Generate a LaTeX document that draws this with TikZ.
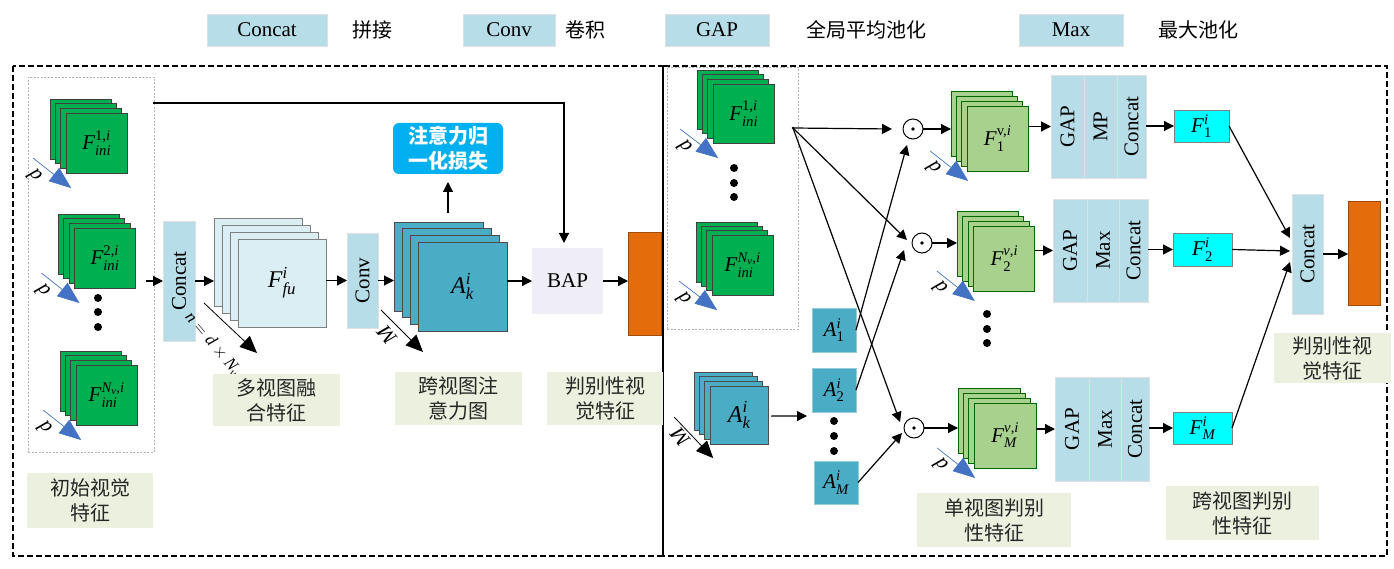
\documentclass[tikz,border=0pt]{standalone}
\usepackage{amsmath}
\usepackage{graphicx}
\usepackage{fontspec}
\setmainfont{Liberation Serif}
\newfontfamily\cjk{Noto Sans CJK SC}
\usetikzlibrary{arrows.meta,calc}
\definecolor{lblue}{HTML}{B7DDE8}
\definecolor{lgreenbg}{HTML}{EBF1DE}
\definecolor{dgreen}{HTML}{00B050}
\definecolor{mgreen}{HTML}{A9D18E}
\definecolor{tealA}{HTML}{4BACC6}
\definecolor{paleB}{HTML}{DAEEF3}
\definecolor{orng}{HTML}{E46C0A}
\definecolor{attnc}{HTML}{00B0F0}
\definecolor{bapc}{HTML}{EFEDF5}
\definecolor{darrc}{HTML}{4472C4}
\definecolor{cyanF}{HTML}{00FFFF}
\newcommand\stk[9]{%
 \node[#8, minimum width=#4pt, minimum height=#5pt, anchor=north west] (#1b) at (#2,#3) {};
 \foreach \k in {1,2}{\node[#8, minimum width=#4pt, minimum height=#5pt, anchor=north west] at ({#2+\k*#6},{#3+\k*#7}) {};}
 \node[#8, minimum width=#4pt, minimum height=#5pt, anchor=north west] (#1) at ({#2+3*#6},{#3+3*#7}) {#9};
}
\newcommand\ti[1]{\textit{#1}}
\newcommand\tu[1]{\textup{#1}}
\begin{document}
\begin{tikzpicture}[x=1pt,y=-1pt,
 every node/.style={inner sep=0pt, outer sep=0pt},
 txt/.style={font=\fontsize{21}{25}\selectfont},
 bigtxt/.style={font=\fontsize{24}{28}\selectfont},
 ctxt/.style={font=\cjk\fontsize{20}{25}\selectfont, align=center},
 bluebox/.style={fill=lblue, draw=black!12, line width=0.8pt, txt},
 lab/.style={fill=lgreenbg, ctxt, text=black!85},
 gsheet/.style={fill=dgreen, draw=black!75, line width=0.9pt, txt},
 lgsheet/.style={fill=mgreen, draw=black!60!green, line width=0.9pt, txt},
 tsheet/.style={fill=tealA, draw=black!70, line width=0.9pt, bigtxt},
 psheet/.style={fill=paleB, draw=black!50, line width=0.9pt, bigtxt},
 abox/.style={fill=tealA, draw=tealA!60!white, line width=0.8pt, txt, minimum width=44pt, minimum height=44pt},
 fbox/.style={fill=cyanF, draw=black!50, line width=0.8pt, txt},
 arr/.style={-{Triangle[length=10pt,width=10pt]}, line width=1.2pt},
 darrow/.style={draw=darrc, line width=0.7pt, -{Triangle[length=22pt,width=17pt]}},
 karrow/.style={line width=0.8pt, -{Triangle[length=17pt,width=15pt]}},
 dotn/.style={circle, fill=black, minimum size=8pt},
 odot/.style={circle, draw, line width=1pt, minimum size=20pt, fill=white},
 outerd/.style={line width=2.2pt, dash pattern=on 6pt off 3pt},
 innerd/.style={draw=black!30, line width=0.8pt, dash pattern=on 2pt off 1.5pt},
 dlab/.style={font=\fontsize{21}{25}\selectfont\itshape},
]
\useasboundingbox (0,0) rectangle (1394,569);

% legend
\node[bluebox, minimum width=120pt, minimum height=32pt] (lg1) at (267,30) {Concat};
\node[ctxt] (lt1) at (372,30) {拼接};
\node[bluebox, minimum width=92pt, minimum height=32pt] (lg2) at (509,30) {Conv};
\node[ctxt] (lt2) at (585,30) {卷积};
\node[bluebox, minimum width=104pt, minimum height=32pt] (lg3) at (717,30) {GAP};
\node[ctxt] (lt3) at (866,30) {全局平均池化};
\node[bluebox, minimum width=104pt, minimum height=32pt] (lg4) at (1071,30) {Max};
\node[ctxt] (lt4) at (1198,30) {最大池化};

% outer boxes
\draw[outerd] (13,66) rectangle (663,556);
\draw[outerd] (663,66) rectangle (1387,556);

% ---------------- left panel
\node[innerd, minimum width=126pt, minimum height=375pt, anchor=north west] (ini) at (28,77) {};
\stk{L1}{50}{99}{61}{60}{5.4}{4.7}{gsheet}{$\ti{F}^{\tu{1,}\ti{i}}_{\ti{ini}}$}
\stk{L2}{58}{214}{61}{60}{5.5}{4.7}{gsheet}{$\ti{F}^{\tu{2,}\ti{i}}_{\ti{ini}}$}
\stk{L3}{60}{351}{61}{60}{5.4}{4.7}{gsheet}{$\ti{F}^{\ti{N}_{\ti{v}}\tu{,}\ti{i}}_{\ti{ini}}$}
\node[dotn] (ld1) at (98,298) {};
\node[dotn] (ld2) at (98,312) {};
\node[dotn] (ld3) at (98,327) {};
\foreach \s in {L1,L2,L3}{
 \draw[darrow] ($(\s.south west)+(-33,-15)$) -- ($(\s.south west)+(5,15)$);
 \node[dlab, rotate=130] at ($(\s.south west)+(-32,3)$) {d};
}
\node[lab, minimum width=126pt, minimum height=55pt, anchor=north west] (lb1) at (27,473) {初始视觉\\特征};

\node[bluebox, minimum width=32pt, minimum height=120pt] (cL) at (179,281) {\rotatebox{90}{Concat}};
\coordinate (cin) at (146,281);
\draw[arr] (cin) -- (cL.west);
\stk{Ffu}{214}{218}{88}{88}{8}{7}{psheet}{$\ti{F}^{\ti{i}}_{\ti{fu}}$}
\draw[arr] (cL.east) -- (cL.east -| Ffub.west);
\draw[karrow] ($(cL.south east)+(9,-38)$) -- ($(cL.south east)+(62,12)$);
\node[font=\fontsize{17}{20}\selectfont, rotate=-50] (nlab) at (213,344) {$\ti{n}=\ti{d}\times\ti{N}_{\ti{v}}$};
\node[lab, minimum width=127pt, minimum height=52pt, anchor=north west] (lb2) at (213,374) {多视图融\\合特征};

\node[bluebox, minimum width=31pt, minimum height=95pt] (conv) at (362.5,280.5) {\rotatebox{90}{Conv}};
\draw[arr] (Ffu.east |- conv.west) -- (conv.west);
\stk{Ak}{394}{222}{89}{89}{8}{6.7}{tsheet}{$\ti{A}^{\ti{i}}_{\ti{k}}$}
\draw[arr] (conv.east) -- (conv.east -| Akb.west);
\draw[karrow] ($(conv.south east)+(3,-18)$) -- ($(conv.south east)+(45,24)$);
\node[dlab, rotate=130] (mlab1) at ($(conv.south east)+(9,7)$) {M};
\node[fill=attnc, rounded corners=6pt, minimum width=110pt, minimum height=51pt, text=white, font=\cjk\bfseries\fontsize{20}{25}\selectfont, align=center] (attn) at (448,148.5) {注意力归\\一化损失};
\draw[arr] ($(attn.south)+(0,39)$) -- ($(attn.south)+(0,8)$);
\node[lab, minimum width=127pt, minimum height=53pt, anchor=north west] (lb3) at (395,372) {跨视图注\\意力图};

\node[fill=bapc, txt, minimum width=71pt, minimum height=66pt] (bap) at (567.5,281) {BAP};
\draw[arr] (Ak.east |- bap.west) -- (bap.west);
\node[fill=orng, draw=orng!70!black, line width=0.8pt, minimum width=33pt, minimum height=103pt] (orL) at (644.5,283.5) {};
\draw[arr] (bap.east) -- (bap.east -| orL.west);
\coordinate (tstart) at (153,103);
\draw[arr] (tstart) -| ($(bap.north)+(-3.5,-5)$);
\node[lab, minimum width=116pt, minimum height=53pt, anchor=north west] (lb4) at (547,372) {判别性视\\觉特征};

% ---------------- right panel
\node[innerd, minimum width=131pt, minimum height=262pt, anchor=north west] (iniR) at (667,67) {};
\stk{R1}{697}{70}{61}{59}{5.4}{4.7}{gsheet}{$\ti{F}^{\tu{1,}\ti{i}}_{\ti{ini}}$}
\stk{R2}{696}{222}{61}{60}{5.4}{4.4}{gsheet}{$\ti{F}^{\ti{N}_{\ti{v}}\tu{,}\ti{i}}_{\ti{ini}}$}
\node[dotn] (rd1) at (734,168) {};
\node[dotn] (rd2) at (734,183) {};
\node[dotn] (rd3) at (734,197) {};
\foreach \s in {R1,R2}{
 \draw[darrow] ($(\s.south west)+(-33,-14)$) -- ($(\s.south west)+(5,15)$);
 \node[dlab, rotate=130] at ($(\s.south west)+(-29,4)$) {d};
}
\stk{AkR}{694}{372}{58}{58}{5.4}{4.7}{tsheet}{$\ti{A}^{\ti{i}}_{\ti{k}}$}
\draw[karrow] ($(AkR.south west)+(-36,-27)$) -- ($(AkR.south west)+(3,14)$);
\node[dlab, rotate=130] (mlab2) at ($(AkR.south west)+(-30,-7)$) {M};

\node[abox] (A1) at (834,330) {$\ti{A}^{\ti{i}}_{\tu{1}}$};
\node[abox] (A2) at (834,390) {$\ti{A}^{\ti{i}}_{\tu{2}}$};
\node[abox, minimum height=43pt] (AM) at (836,482.5) {$\ti{A}^{\ti{i}}_{\ti{M}}$};
\node[dotn] (ad1) at (834,421) {};
\node[dotn] (ad2) at (834,436) {};
\node[dotn] (ad3) at (834,451) {};
\draw[arr] ($(AkR.east)+(3,1)$) -- ($(A2.south west)+(-5,4)$);

\coordinate (src) at (793,128);
\fill (src) circle (1.3pt);
\node[odot] (o1) at (913,129) {};
\node[odot] (o2) at (922,243) {};
\node[odot] (oM) at (914,428) {};
\foreach \o in {o1,o2,oM}{\fill (\o) circle (1.8pt);}
\draw[arr] (src) -- ($(o1.west)+(-11,0)$);
\draw[arr] (src) -- ($(o2.west)+(-5,-3)$);
\draw[arr] (src) -- ($(oM.west)+(-4,-6)$);
\draw[arr] (A1.east) -- ($(o1.south)+(-6,6)$);
\draw[arr] (A2.east) -- ($(o2.west)+(-8,7)$);
\draw[arr] (AM.east) -- ($(oM.west)+(-2,5)$);

\stk{F1v}{951}{91}{61}{65}{5.4}{5}{lgsheet}{$\ti{F}^{\tu{v,}\ti{i}}_{\tu{1}}$}
\stk{F2v}{957}{211}{61}{65}{5.6}{5}{lgsheet}{$\ti{F}^{\ti{v}\tu{,}\ti{i}}_{\tu{2}}$}
\stk{FMv}{958}{388}{62}{65}{5.4}{5}{lgsheet}{$\ti{F}^{\ti{v}\tu{,}\ti{i}}_{\ti{M}}$}
\node[dotn] (fd1) at (987,314) {};
\node[dotn] (fd2) at (987,329) {};
\node[dotn] (fd3) at (987,343) {};
\foreach \s in {F1v,F2v,FMv}{
 \draw[darrow] ($(\s.south west)+(-37,-20)$) -- ($(\s.south west)+(1,10)$);
 \node[dlab, rotate=130] at ($(\s.south west)+(-34,-3)$) {d};
}
\draw[arr] (o1) -- (o1 -| F1vb.west);
\draw[arr] (o2) -- (o2 -| F2vb.west);
\draw[arr] (oM) -- (oM -| FMvb.west);

\node[bluebox, minimum width=33pt, minimum height=103pt, anchor=north west] (b1g) at (1051,75) {\rotatebox{90}{GAP}};
\node[bluebox, minimum width=33pt, minimum height=103pt, anchor=north west] (b1m) at (1084,75) {\rotatebox{90}{MP}};
\node[bluebox, minimum width=29pt, minimum height=103pt, anchor=north west] (b1c) at (1117,75) {\rotatebox{90}{Concat}};
\node[bluebox, minimum width=34pt, minimum height=103pt, anchor=north west] (b2g) at (1053,199) {\rotatebox{90}{GAP}};
\node[bluebox, minimum width=32pt, minimum height=103pt, anchor=north west] (b2m) at (1087,199) {\rotatebox{90}{Max}};
\node[bluebox, minimum width=29pt, minimum height=103pt, anchor=north west] (b2c) at (1119,199) {\rotatebox{90}{Concat}};
\node[bluebox, minimum width=34pt, minimum height=104pt, anchor=north west] (b3g) at (1055,377) {\rotatebox{90}{GAP}};
\node[bluebox, minimum width=32pt, minimum height=104pt, anchor=north west] (b3m) at (1089,377) {\rotatebox{90}{Max}};
\node[bluebox, minimum width=28pt, minimum height=104pt, anchor=north west] (b3c) at (1121,377) {\rotatebox{90}{Concat}};
\draw[arr] (F1v.east |- b1g.west) -- (b1g.west);
\draw[arr] (F2v.east |- b2g.west) -- (b2g.west);
\draw[arr] (FMv.east |- b3g.west) -- (b3g.west);

\node[fbox, minimum width=55pt, minimum height=32pt] (Fi1) at (1201.5,126) {$\ti{F}^{\ti{i}}_{\tu{1}}$};
\node[fbox, minimum width=59pt, minimum height=33pt] (Fi2) at (1202.5,249.5) {$\ti{F}^{\ti{i}}_{\tu{2}}$};
\node[fbox, minimum width=59pt, minimum height=32pt] (FiM) at (1202.5,428) {$\ti{F}^{\ti{i}}_{\ti{M}}$};
\draw[arr] (b1c.east |- Fi1.west) -- (Fi1.west);
\draw[arr] (b2c.east |- Fi2.west) -- (Fi2.west);
\draw[arr] (b3c.east |- FiM.west) -- (FiM.west);

\node[bluebox, minimum width=31pt, minimum height=120pt] (cR) at (1307.5,254) {\rotatebox{90}{Concat}};
\draw[arr] (Fi1.east) -- ($(cR.west)+(-2,-16)$);
\draw[arr] (Fi2.east) -- ($(cR.west)+(-2,-3)$);
\draw[arr] (FiM.east) -- ($(cR.west)+(-2,8)$);
\node[fill=orng, draw=orng!70!black, line width=0.8pt, minimum width=32pt, minimum height=104pt] (orR) at (1364,253) {};
\draw[arr] (cR.east) -- (cR.east -| orR.west);

\node[lab, minimum width=154pt, minimum height=54pt, anchor=north west] (lb5) at (917,493) {单视图判别\\性特征};
\node[lab, minimum width=153pt, minimum height=54pt, anchor=north west] (lb6) at (1166,486) {跨视图判别\\性特征};
\node[lab, minimum width=117pt, minimum height=50pt, anchor=north west] (lb7) at (1274,333) {判别性视\\觉特征};
\end{tikzpicture}
\end{document}
